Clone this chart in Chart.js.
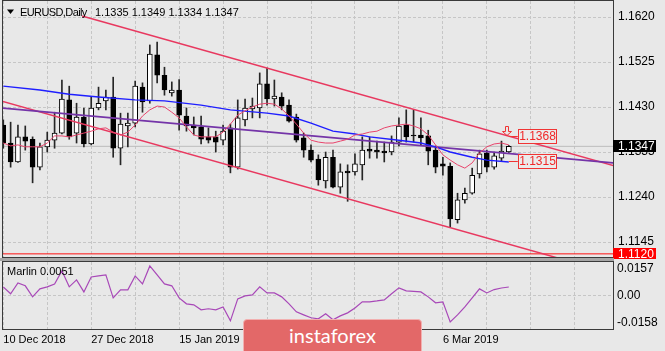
<!DOCTYPE html>
<html>
<head>
<meta charset="utf-8">
<script src="https://cdn.jsdelivr.net/npm/chart.js@4.4.1/dist/chart.umd.min.js"></script>
<style>
  html, body { margin: 0; padding: 0; background: #e8e8e8; }
  #wrap { position: relative; width: 665px; height: 351px; overflow: hidden; background: #e8e8e8; }
  #main { position: absolute; left: 0; top: 0; }
  #osc { position: absolute; left: 0; top: 259px; }
  #sep { position: absolute; left: 0; top: 258px; width: 614px; height: 3px; background: #a6a6a6; }
  #logo { position: absolute; left: 243px; top: 319px; width: 177px; height: 40px; background: #e36868;
          border: 1px solid #f2b0b0; border-radius: 4px; color: #fff; font: 20px Lato, sans-serif;
          text-align: center; line-height: 30px; }
</style>
</head>
<body>
<div id="wrap">
  <canvas id="main" width="665" height="259"></canvas>
  <div id="sep"></div>
  <canvas id="osc" width="665" height="92"></canvas>
  <div id="logo">instaforex</div>
</div>
<script>
// EURUSD daily candles, 10 Dec 2018 .. 19 Mar 2019
const opens = [1.1392, 1.1354, 1.1314, 1.1367, 1.1362, 1.1303, 1.1346, 1.1360, 1.1375, 1.1445,
               1.1375, 1.1409, 1.1352, 1.1428, 1.1443, 1.1451, 1.1343, 1.1390, 1.1396, 1.1472,
               1.1443, 1.1540, 1.1497, 1.1460, 1.1466, 1.1411, 1.1392, 1.1388, 1.1367, 1.1367,
               1.1360, 1.1386, 1.1303, 1.1403, 1.1426, 1.1428, 1.1479, 1.1447, 1.1451, 1.1434,
               1.1409, 1.1365, 1.1339, 1.1320, 1.1274, 1.1324, 1.1261, 1.1295, 1.1293, 1.1308,
               1.1341, 1.1339, 1.1337, 1.1335, 1.1356, 1.1392, 1.1371, 1.1371, 1.1369, 1.1339,
               1.1310, 1.1305, 1.1192, 1.1234, 1.1248, 1.1289, 1.1333, 1.1303, 1.1322, 1.1335];
const highs = [1.1403, 1.1398, 1.1392, 1.1390, 1.1367, 1.1354, 1.1377, 1.1419, 1.1487, 1.1474,
               1.1438, 1.1428, 1.1451, 1.1472, 1.1466, 1.1493, 1.1417, 1.1417, 1.1485, 1.1481,
               1.1561, 1.1567, 1.1514, 1.1483, 1.1488, 1.1428, 1.1409, 1.1411, 1.1386, 1.1379,
               1.1392, 1.1394, 1.1445, 1.1447, 1.1449, 1.1502, 1.1512, 1.1487, 1.1460, 1.1445,
               1.1415, 1.1375, 1.1350, 1.1329, 1.1335, 1.1339, 1.1310, 1.1308, 1.1331, 1.1367,
               1.1367, 1.1358, 1.1356, 1.1369, 1.1407, 1.1424, 1.1424, 1.1407, 1.1381, 1.1348,
               1.1324, 1.1312, 1.1248, 1.1259, 1.1301, 1.1339, 1.1339, 1.1335, 1.1358, 1.1349];
const lows = [1.1343, 1.1303, 1.1313, 1.1339, 1.1270, 1.1297, 1.1335, 1.1343, 1.1373, 1.1362,
              1.1354, 1.1346, 1.1350, 1.1424, 1.1424, 1.1324, 1.1308, 1.1346, 1.1388, 1.1419,
              1.1438, 1.1481, 1.1455, 1.1453, 1.1381, 1.1379, 1.1371, 1.1352, 1.1354, 1.1335,
              1.1350, 1.1291, 1.1299, 1.1390, 1.1407, 1.1407, 1.1434, 1.1432, 1.1424, 1.1398,
              1.1356, 1.1324, 1.1314, 1.1265, 1.1259, 1.1259, 1.1248, 1.1231, 1.1286, 1.1276,
              1.1322, 1.1322, 1.1314, 1.1329, 1.1348, 1.1356, 1.1356, 1.1350, 1.1308, 1.1291,
              1.1286, 1.1177, 1.1185, 1.1227, 1.1246, 1.1280, 1.1293, 1.1299, 1.1316, 1.1334];
const closes = [1.1354, 1.1314, 1.1367, 1.1358, 1.1303, 1.1346, 1.1360, 1.1375, 1.1447, 1.1367,
                1.1409, 1.1352, 1.1428, 1.1438, 1.1451, 1.1343, 1.1394, 1.1396, 1.1474, 1.1441,
                1.1542, 1.1497, 1.1466, 1.1466, 1.1413, 1.1390, 1.1386, 1.1362, 1.1360, 1.1356,
                1.1379, 1.1303, 1.1407, 1.1428, 1.1432, 1.1479, 1.1447, 1.1453, 1.1432, 1.1400,
                1.1360, 1.1339, 1.1318, 1.1276, 1.1324, 1.1261, 1.1293, 1.1291, 1.1310, 1.1339,
                1.1337, 1.1335, 1.1333, 1.1356, 1.1390, 1.1367, 1.1369, 1.1365, 1.1337, 1.1303,
                1.1305, 1.1194, 1.1234, 1.1248, 1.1286, 1.1331, 1.1303, 1.1327, 1.1337, 1.1347];

// thin red moving average, one value per bar
const fastMa = [1.1354, 1.1348, 1.1350, 1.1346, 1.1346, 1.1346, 1.1354, 1.1369, 1.1369, 1.1367,
                1.1371, 1.1375, 1.1379, 1.1384, 1.1386, 1.1377, 1.1371, 1.1377, 1.1392, 1.1411,
                1.1424, 1.1432, 1.1430, 1.1419, 1.1407, 1.1388, 1.1371, 1.1367, 1.1367, 1.1367,
                1.1377, 1.1394, 1.1413, 1.1422, 1.1430, 1.1436, 1.1438, 1.1436, 1.1426, 1.1411,
                1.1394, 1.1375, 1.1360, 1.1356, 1.1354, 1.1354, 1.1358, 1.1362, 1.1371, 1.1373,
                1.1377, 1.1379, 1.1386, 1.1390, 1.1392, 1.1394, 1.1390, 1.1384, 1.1371, 1.1350,
                1.1329, 1.1318, 1.1308, 1.1301, 1.1312, 1.1333, 1.1346, 1.1352, 1.1354, 1.1350];

// blue moving average, read at a few bars
const slowMaBars   = [0, 5, 9, 13, 18, 22, 27, 31, 36, 39, 42, 45, 48, 50, 54, 57, 59, 61, 64, 66, 69];
const slowMaValues = [1.1474, 1.1466, 1.1457, 1.1451, 1.1445, 1.1443, 1.1434, 1.1424, 1.1417, 1.1411,
                      1.1396, 1.1379, 1.1373, 1.1367, 1.1360, 1.1354, 1.1346, 1.1335, 1.1324, 1.1318, 1.1314];

// Marlin oscillator, one value per bar
const marlin = [0.0052, 0.0011, 0.0075, 0.0058, -0.0007, 0.0040, 0.0052, 0.0069, 0.0146, 0.0052,
                0.0093, 0.0022, 0.0110, 0.0116, 0.0122, -0.0013, 0.0034, 0.0034, 0.0116, 0.0069,
                0.0175, 0.0122, 0.0069, 0.0058, -0.0013, -0.0048, -0.0054, -0.0083, -0.0077, -0.0083,
                -0.0066, -0.0148, -0.0019, -0.0001, 0.0005, 0.0052, 0.0016, 0.0016, -0.0007, -0.0048,
                -0.0095, -0.0113, -0.0130, -0.0136, -0.0107, -0.0142, -0.0119, -0.0101, -0.0072, -0.0036,
                -0.0036, -0.0031, -0.0025, 0.0011, 0.0046, 0.0028, 0.0025, 0.0022, -0.0007, -0.0042,
                -0.0036, -0.0154, -0.0113, -0.0066, -0.0013, 0.0040, 0.0016, 0.0036, 0.0045, 0.0051];

// drawn objects: [bar, price] end points
const upperChannel = [[10.75, 1.1622], [84, 1.1303]];
const lowerChannel = [[-1, 1.1446], [84, 1.1075]];
const regressionLine = [[-1, 1.1429], [84, 1.1311]];
const supportLevel = 1.1120;
const lastPrice = 1.1347;
const upperMark = 1.1368;
const lowerMark = 1.1315;

// axes
const priceTicks = [1.1620, 1.1525, 1.1430, 1.1335, 1.1240, 1.1145];
const marlinTicks = [0.0157, 0, -0.0158];
const gridBars = [0, 6, 12, 18, 24, 30, 36, 42, 48, 54, 60, 66, 72, 78];
const dateLabelBars = [0, 12, 24, 36, 48, 60];
const dateLabels = ['10 Dec 2018', '27 Dec 2018', '15 Jan 2019', '31 Jan 2019', '18 Feb 2019', '6 Mar 2019'];

const BAR_MIN = -0.04, BAR_MAX = 83.22;
const GRID = '#c6c6c6';

Chart.defaults.font.family = 'Liberation Sans';
Chart.defaults.color = '#000';

const toPts = pairs => pairs.map(p => ({ x: p[0], y: p[1] }));
const flat = (v) => [{ x: -1, y: v }, { x: 84, y: v }];

const lineSet = (data, color, width, order) => ({
  type: 'line', data, borderColor: color, borderWidth: width,
  pointRadius: 0, fill: false, tension: 0, order
});

// keep Chart.js from reserving room for overhanging tick labels
const noOverhang = s => { s.paddingTop = 0; s.paddingBottom = 0; s.paddingLeft = 0; s.paddingRight = 0; };

const xAxis = (extra) => Object.assign({
  type: 'linear', min: BAR_MIN, max: BAR_MAX, offset: false,
  afterBuildTicks: s => { s.ticks = gridBars.map(v => ({ value: v })); },
  grid: { color: GRID, drawTicks: false, offset: false },
  border: { display: false, dash: [3, 2] }
}, extra);

const frame = (ctx, a) => {
  ctx.strokeStyle = '#3a3a3a';
  ctx.lineWidth = 1;
  ctx.strokeRect(a.left - 0.5, a.top - 0.5, a.right - a.left + 1, a.bottom - a.top + 1);
};

const priceTag = (ctx, yPx, text, bg, fg) => {
  ctx.fillStyle = bg;
  ctx.fillRect(613, Math.round(yPx) - 6, 43, 12);
  ctx.fillStyle = fg;
  ctx.font = '12px Liberation Sans';
  ctx.textBaseline = 'middle';
  ctx.textAlign = 'left';
  ctx.fillText(text, 618, Math.round(yPx) + 0.5);
};

const markBox = (ctx, x0, yPx, text) => {
  const top = Math.round(yPx) - 7;
  ctx.fillStyle = '#ebebeb';
  ctx.fillRect(x0, top, 38, 14);
  ctx.strokeStyle = '#f03434';
  ctx.lineWidth = 1;
  ctx.strokeRect(x0 + 0.5, top + 0.5, 38, 14);
  ctx.fillStyle = '#f02828';
  ctx.font = '12px Liberation Sans';
  ctx.textAlign = 'center';
  ctx.textBaseline = 'middle';
  ctx.fillText(text, x0 + 19.5, top + 7.5);
};

const mainDecor = {
  id: 'mainDecor',
  afterDraw(chart) {
    const { ctx, chartArea: a, scales: { x, y } } = chart;
    ctx.save();
    frame(ctx, a);

    // header
    ctx.fillStyle = '#000';
    ctx.beginPath();
    ctx.moveTo(7, 9.5); ctx.lineTo(14, 9.5); ctx.lineTo(10.5, 14);
    ctx.closePath(); ctx.fill();
    ctx.font = '11px Liberation Sans';
    ctx.textBaseline = 'alphabetic';
    ctx.textAlign = 'left';
    ctx.letterSpacing = '-0.6px';
    ctx.fillText('EURUSD,Daily', 20, 16);
    ctx.letterSpacing = '0px';
    ctx.fillText('1.1335 1.1349 1.1334 1.1347', 95, 16);

    // marks at the last bar
    const xl = x.getPixelForValue(opens.length - 1);
    const yu = y.getPixelForValue(upperMark);
    const yd = y.getPixelForValue(lowerMark);
    ctx.strokeStyle = '#f03434';
    ctx.beginPath();
    ctx.moveTo(xl, Math.round(yu) + 0.5); ctx.lineTo(xl + 9, Math.round(yu) + 0.5);
    ctx.moveTo(xl, Math.round(yd) + 0.5); ctx.lineTo(xl + 9, Math.round(yd) + 0.5);
    ctx.stroke();
    markBox(ctx, Math.round(xl + 9), yu, upperMark.toFixed(4));
    markBox(ctx, Math.round(xl + 9), yd, lowerMark.toFixed(4));

    // hollow down arrow above the last bar
    const ax = Math.round(xl) - 2, ay = Math.round(yu) - 10;
    ctx.beginPath();
    ctx.moveTo(ax - 1.5, ay + 0.5); ctx.lineTo(ax + 1.5, ay + 0.5); ctx.lineTo(ax + 1.5, ay + 5.5);
    ctx.lineTo(ax + 4.5, ay + 5.5); ctx.lineTo(ax, ay + 9.5); ctx.lineTo(ax - 4.5, ay + 5.5);
    ctx.lineTo(ax - 1.5, ay + 5.5); ctx.closePath();
    ctx.stroke();

    priceTag(ctx, y.getPixelForValue(lastPrice), lastPrice.toFixed(4), '#000', '#fff');
    priceTag(ctx, y.getPixelForValue(supportLevel), supportLevel.toFixed(4), '#ff0000', '#fff');
    ctx.restore();
  }
};

new Chart(document.getElementById('main'), {
  type: 'line',
  data: {
    datasets: [
      lineSet(fastMa.map((v, i) => ({ x: i, y: v })), '#e8446c', 1, 0),
      lineSet(slowMaBars.map((b, i) => ({ x: b, y: slowMaValues[i] })), '#1e1eff', 1.4, 1),
      lineSet(toPts(regressionLine), '#7434a8', 1.8, 2),
      lineSet(toPts(upperChannel), '#e8385f', 1.5, 3),
      lineSet(toPts(lowerChannel), '#e8385f', 1.5, 3),
      lineSet(flat(supportLevel), '#ff1010', 1, 3),
      {
        type: 'bar', label: 'body', order: 5, grouped: false, barThickness: 5,
        data: opens.map((o, i) => ({ x: i, y: [o, closes[i]] })),
        backgroundColor: opens.map((o, i) => closes[i] >= o ? '#ffffff' : '#000000'),
        borderColor: '#000', borderWidth: 1, borderSkipped: false
      },
      {
        type: 'bar', label: 'wick', order: 6, grouped: false, barThickness: 1,
        data: lows.map((l, i) => ({ x: i, y: [l, highs[i]] })),
        backgroundColor: '#262626'
      },
      lineSet(flat(lastPrice), '#bcbcbc', 1, 7)
    ]
  },
  options: {
    responsive: false, animation: false, devicePixelRatio: 1,
    layout: { padding: { left: 3, top: 1, right: 0, bottom: 2 } },
    plugins: { legend: { display: false }, tooltip: { enabled: false } },
    scales: {
      x: xAxis({ ticks: { display: false }, afterFit: s => { s.height = 0; noOverhang(s); } }),
      y: {
        position: 'right', min: 1.11134, max: 1.16538,
        afterBuildTicks: s => { s.ticks = priceTicks.map(v => ({ value: v })); },
        afterFit: s => { s.width = 52; noOverhang(s); },
        ticks: { padding: 5, font: { size: 12 }, callback: v => v.toFixed(4) },
        grid: { color: GRID, drawTicks: false },
        border: { display: false, dash: [3, 2] }
      }
    }
  },
  plugins: [mainDecor]
});

const oscDecor = {
  id: 'oscDecor',
  afterDraw(chart) {
    const { ctx, chartArea: a } = chart;
    ctx.save();
    frame(ctx, a);
    ctx.fillStyle = '#000';
    ctx.font = '11px Liberation Sans';
    ctx.textAlign = 'left';
    ctx.textBaseline = 'alphabetic';
    ctx.fillText('Marlin ' + marlin[marlin.length - 1].toFixed(4), 7, 16);
    ctx.restore();
  }
};

new Chart(document.getElementById('osc'), {
  type: 'line',
  data: {
    datasets: [lineSet(marlin.map((v, i) => ({ x: i, y: v })), '#a848b8', 1.2, 0)]
  },
  options: {
    responsive: false, animation: false, devicePixelRatio: 1,
    layout: { padding: { left: 3, top: 3, right: 0, bottom: 0 } },
    plugins: { legend: { display: false }, tooltip: { enabled: false } },
    scales: {
      x: xAxis({
        afterFit: s => { s.height = 22; noOverhang(s); },
        ticks: {
          autoSkip: false, maxRotation: 0, align: 'start', padding: 4, font: { size: 11 },
          callback: v => { const k = dateLabelBars.indexOf(v); return k >= 0 ? dateLabels[k] : ''; }
        }
      }),
      y: {
        position: 'right', min: -0.0196, max: 0.0198,
        afterBuildTicks: s => { s.ticks = marlinTicks.map(v => ({ value: v })); },
        afterFit: s => { s.width = 52; noOverhang(s); },
        ticks: { padding: 4, font: { size: 12 }, callback: v => v === 0 ? '0.00' : v.toFixed(4) },
        grid: { color: c => (c.tick && c.tick.value === 0) ? GRID : 'transparent', drawTicks: false },
        border: { display: false, dash: [3, 2] }
      }
    }
  },
  plugins: [oscDecor]
});
</script>
</body>
</html>
